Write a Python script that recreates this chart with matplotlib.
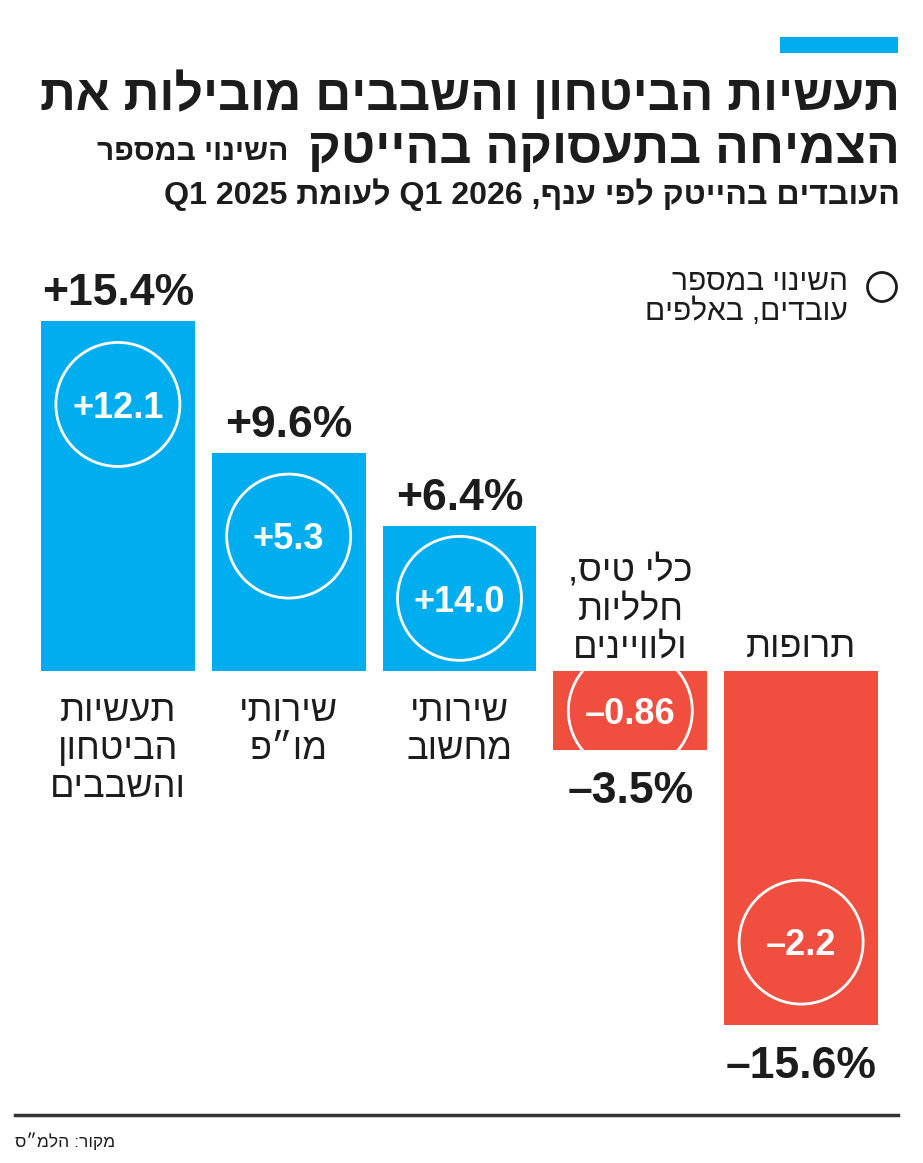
import re
import matplotlib.pyplot as plt
from matplotlib.patches import Ellipse, Circle, Rectangle
from matplotlib.lines import Line2D

plt.rcParams['font.family'] = ['Liberation Sans', 'DejaVu Sans']

# DATA
branches = ['תעשיות\nהביטחון\nוהשבבים', 'שירותי\nמו״פ', 'שירותי\nמחשוב',
            'כלי טיס,\nחלליות\nולוויינים', 'תרופות']
pct_change = [15.4, 9.6, 6.4, -3.5, -15.6]        # % change in hi-tech employees
workers_change = [12.1, 5.3, 14.0, -0.86, -2.2]   # change in thousands of workers

title_lines = ['תעשיות הביטחון והשבבים מובילות את', 'הצמיחה בתעסוקה בהייטק']
subtitle_lines = ['השינוי במספר', 'העובדים בהייטק לפי ענף, Q1 2026 לעומת Q1 2025']
legend_text = 'השינוי במספר\nעובדים, באלפים'
source_text = 'מקור: הלמ״ס'

BLUE = '#00AEEF'
RED = '#F04E3F'
INK = '#1c1c1c'
W, H = 923, 1163


# matplotlib has no bidi: flip hebrew lines, keep latin/number runs left-to-right
def rtl(s):
    out = []
    for line in s.split('\n'):
        r = line[::-1]
        r = re.sub(r'[A-Za-z0-9][A-Za-z0-9 .]*[A-Za-z0-9]', lambda m: m.group(0)[::-1], r)
        out.append(r)
    return '\n'.join(out)


def pct_label(v):
    return ('+' if v > 0 else '–') + f'{abs(v):.1f}%'


def workers_label(v):
    s = f'{abs(v):.2f}'
    if s.endswith('0'):
        s = s[:-1]
    return ('+' if v > 0 else '–') + s


fig = plt.figure(figsize=(W / 100, H / 100), dpi=100)
fig.patch.set_facecolor('white')
renderer = fig.canvas.get_renderer()


# shrink/grow a header text so it spans the width seen in the reference
def fit_width(t, width_px):
    w = t.get_window_extent(renderer=renderer).width
    t.set_fontsize(t.get_fontsize() * width_px / w)


# header
fig.add_artist(Rectangle((780 / 100, (H - 53) / 100), 1.18, 0.16,
                         transform=fig.dpi_scale_trans, color=BLUE, lw=0))
t1 = fig.text(900 / W, 1 - 110 / H, rtl(title_lines[0]), ha='right', va='baseline',
              fontsize=40, fontweight='bold', color=INK)
fit_width(t1, 860)
t2 = fig.text(900 / W, 1 - 163 / H, rtl(title_lines[1]), ha='right', va='baseline',
              fontsize=40, fontweight='bold', color=INK)
fit_width(t2, 592)
t3 = fig.text(288 / W, 1 - 160 / H, rtl(subtitle_lines[0]), ha='right', va='baseline',
              fontsize=22, fontweight='bold', color=INK)
fit_width(t3, 192)
t4 = fig.text(900 / W, 1 - 204 / H, rtl(subtitle_lines[1]), ha='right', va='baseline',
              fontsize=22, fontweight='bold', color=INK)
fit_width(t4, 735)

# legend
fig.add_artist(Circle((882 / 100, (H - 287) / 100), 0.145, transform=fig.dpi_scale_trans,
                      fill=False, ec=INK, lw=2))
fig.text(848 / W, 1 - 268 / H, rtl(legend_text), ha='right', va='top',
         fontsize=21.5, color=INK, linespacing=1.07)

# bars
ax = fig.add_axes([41 / W, 1 - 1100 / H, (878 - 41) / W, 900 / H])
ax.set_xlim(-0.45, 4.45)
ax.set_ylim(-18.9, 20.75)
ax.axis('off')

x = list(range(len(pct_change)))
colors = [BLUE if v > 0 else RED for v in pct_change]
bars = ax.bar(x, pct_change, width=0.9, color=colors, linewidth=0)

px_x = (878 - 41) / 4.9
px_y = 900 / (20.75 + 18.9)
r = 62

for i, (v, w, rect) in enumerate(zip(pct_change, workers_change, bars)):
    sign = 1 if v > 0 else -1
    off = min(abs(v) / 2, 83 / px_y)
    cy = v - sign * off
    circ = Ellipse((i, cy), 2 * r / px_x, 2 * r / px_y, fill=False, ec='white', lw=2)
    ax.add_patch(circ)
    circ.set_clip_path(rect)
    ax.annotate(workers_label(w), (i, cy), xytext=(0, -9.5), textcoords='offset points',
                ha='center', va='baseline', color='white', fontsize=26, fontweight='bold')
    if v > 0:
        ax.annotate(pct_label(v), (i, v), xytext=(0, 11.5), textcoords='offset points',
                    ha='center', va='baseline', color=INK, fontsize=32, fontweight='bold')
        ax.annotate(rtl(branches[i]), (i, 0), xytext=(0, -16.5), textcoords='offset points',
                    ha='center', va='top', color=INK, fontsize=26, linespacing=1.11)
    else:
        ax.annotate(pct_label(v), (i, v), xytext=(0, -38), textcoords='offset points',
                    ha='center', va='baseline', color=INK, fontsize=32, fontweight='bold')
        ax.annotate(rtl(branches[i]), (i, 0), xytext=(0, 4), textcoords='offset points',
                    ha='center', va='bottom', color=INK, fontsize=26, linespacing=1.11)

# footer
fig.add_artist(Line2D([15 / W, 898 / W], [1 - 1115 / H] * 2, lw=2.5, color='#333333'))
fig.text(15 / W, 1 - 1147 / H, rtl(source_text), ha='left', va='baseline',
         fontsize=12.5, color=INK)

fig.savefig('out.png', dpi=100)
